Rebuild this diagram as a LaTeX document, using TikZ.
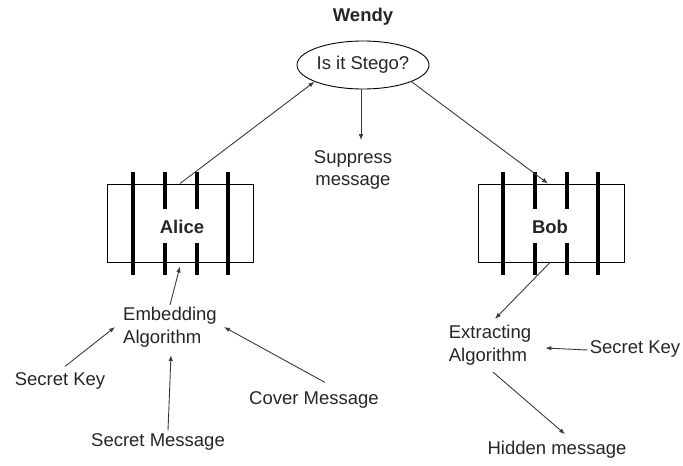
\documentclass[tikz,border=0pt]{standalone}
\usepackage{fontspec}
\setmainfont{Liberation Sans}
\usetikzlibrary{shapes.geometric,arrows.meta}
\definecolor{ink}{HTML}{262626}
\definecolor{wire}{HTML}{3A3A3A}
\begin{document}
\begin{tikzpicture}[x=1pt,y=-1pt,
  font=\fontsize{18.5}{22.5}\selectfont,
  label/.style={inner sep=2pt, text=ink, align=center},
  leftlabel/.style={inner sep=2pt, text=ink, align=left},
  party/.style={draw=black, line width=0.9pt, minimum width=146pt, minimum height=78pt,
                inner sep=0pt, text=ink, font=\fontsize{18.5}{22.5}\selectfont\bfseries},
  bar/.style={line width=4.8pt, black},
  flow/.style={draw=wire, line width=0.9pt, -{Latex[length=6pt,width=4.5pt]}}]
\useasboundingbox (0,0) rectangle (683,466);

% Warden
\node[label, font=\fontsize{18.5}{22.5}\selectfont\bfseries] (wendyname) at (363,17) {Wendy};
\node[ellipse, draw=black, line width=0.9pt, minimum width=132pt, minimum height=48pt,
      inner sep=0pt, text=ink] (wendy) at (363,65) {Is it Stego?};
\node[label] (supp) at (353,170) {Suppress\\message};

% Sender and receiver boxes
\node[party] (alice) at (180,223) {};
\node[party] (bob) at (551,223) {};
\foreach \dx in {0,370} {
  \foreach \x in {133,228} \draw[bar] (\x+\dx,172) -- (\x+\dx,275);
  \foreach \x in {165,197} {
    \draw[bar] (\x+\dx,172) -- (\x+\dx,209);
    \draw[bar] (\x+\dx,243) -- (\x+\dx,275);
  }
}
\node[text=ink, font=\fontsize{18.5}{22.5}\selectfont\bfseries] (alicename) at (182,227) {Alice};
\node[text=ink, font=\fontsize{18.5}{22.5}\selectfont\bfseries] (bobname) at (550,227) {Bob};

% Embedding side
\node[leftlabel] (embed) at (170,327) {Embedding\\Algorithm};
\node[label] (skeyA) at (60,381) {Secret Key};
\node[label] (smsg) at (158,442) {Secret Message};
\node[label] (cover) at (314,400) {Cover Message};

% Extraction side
\node[leftlabel] (extract) at (490,345) {Extracting\\Algorithm};
\node[label] (skeyB) at (635,349) {Secret Key};
\node[label] (hidden) at (557,450) {Hidden message};

% Connectors (yshift is measured upwards)
\draw[flow] (alice.north) -- (wendy.199);
\draw[flow] ([xshift=-2pt]wendy.south) -- ([xshift=8pt,yshift=8pt]supp.north);
\draw[flow] (wendy.341) -- ([xshift=-3pt]bob.north);
\draw[flow] (embed.north) -- ([yshift=-4pt]alice.south);
\draw[flow] ([xshift=5pt,yshift=4pt]skeyA.north) -- ([xshift=-6pt]embed.west);
\draw[flow] ([xshift=10pt,yshift=1pt]smsg.north) -- ([xshift=1pt,yshift=-6pt]embed.south);
\draw[flow] ([xshift=11pt,yshift=7pt]cover.north) -- ([xshift=5pt]embed.east);
\draw[flow] ([xshift=-1pt]bob.south) -- ([xshift=5pt,yshift=4pt]extract.north);
\draw[flow] ([yshift=-1pt]skeyB.west) -- ([xshift=12pt,yshift=-3pt]extract.east);
\draw[flow] ([xshift=3pt,yshift=-5pt]extract.south) -- ([xshift=8pt,yshift=5pt]hidden.north);
\end{tikzpicture}
\end{document}
